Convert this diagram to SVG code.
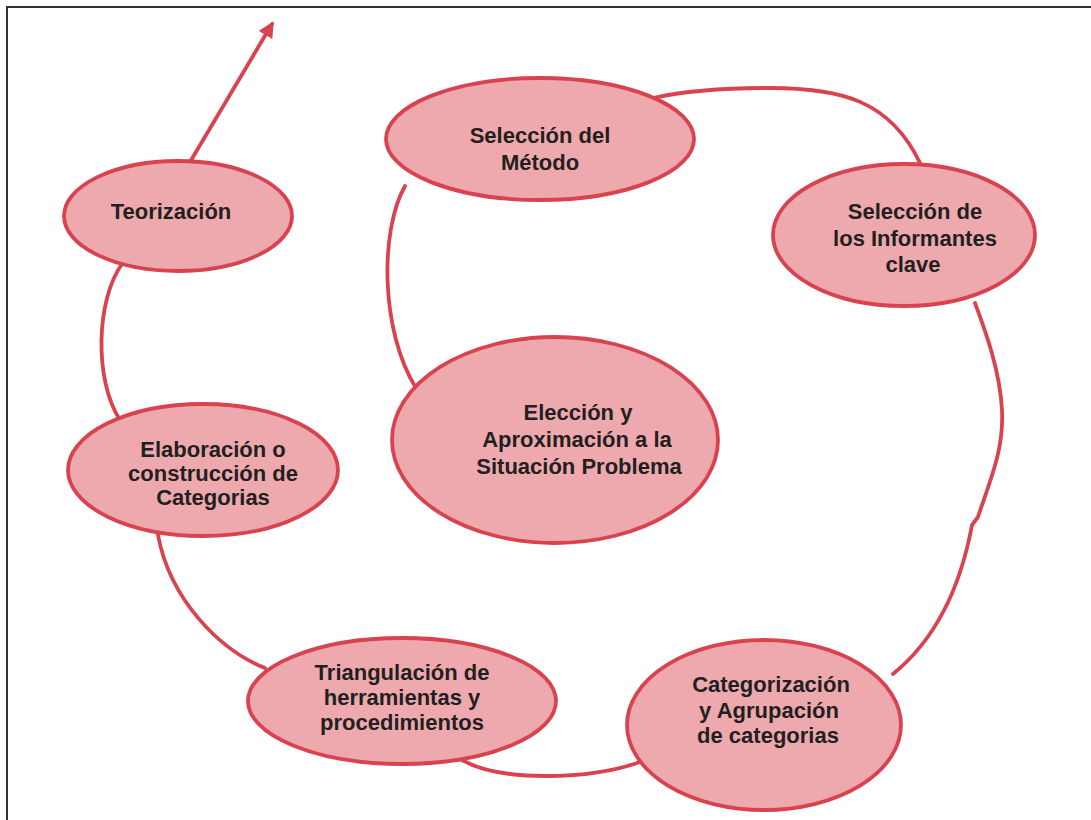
<svg xmlns="http://www.w3.org/2000/svg" width="1091" height="820" viewBox="0 0 1091 820">
<defs>
<style>
.node ellipse{fill:#eea9ae;stroke:#d8434f;stroke-width:3.8}
.node text{font-family:"Liberation Sans",Arial,sans-serif;font-weight:bold;font-size:22px;fill:#231f20;text-anchor:middle}
.conn path{fill:none;stroke:#d8434f;stroke-width:3.8;stroke-linecap:round}
</style>
<marker id="ah" viewBox="0 0 10 10" refX="8" refY="5" markerWidth="4.2" markerHeight="4.2" orient="auto" markerUnits="strokeWidth">
<path d="M0,0 L10,5 L0,10 Z" fill="#d8434f"/>
</marker>
</defs>
<rect x="0" y="0" width="1091" height="820" fill="#ffffff"/>
<path d="M7,820 L7,7 L1091,7" fill="none" stroke="#333333" stroke-width="2"/>
<g class="conn" id="connectors">
<path d="M190,162 L272,24" marker-end="url(#ah)"/>
<path d="M122,264 C96,300 94,380 120,420"/>
<path d="M158,535 C170,600 220,650 265,668"/>
<path d="M462,760 C500,782 590,780 640,762"/>
<path d="M893,674 C935,640 960,590 972,525 L978,517 C990,480 1004,450 1002,410 C1000,370 985,330 975,303"/>
<path d="M920,163 C890,100 840,88 770,88 C720,88 680,92 653,98"/>
<path d="M405,186 C380,230 380,330 416,388"/>
</g>
<g class="node" id="teorizacion">
<ellipse cx="178" cy="216" rx="114" ry="55"/>
<text x="171" y="219">Teorización</text>
</g>
<g class="node" id="metodo">
<ellipse cx="540" cy="139" rx="154" ry="61"/>
<text x="540" y="143">Selección del</text>
<text x="540" y="170">Método</text>
</g>
<g class="node" id="informantes">
<ellipse cx="904" cy="235" rx="131" ry="71"/>
<text x="915" y="219">Selección de</text>
<text x="915" y="246">los Informantes</text>
<text x="913" y="272">clave</text>
</g>
<g class="node" id="eleccion">
<ellipse cx="555" cy="440" rx="163" ry="103"/>
<text x="578" y="420">Elección y</text>
<text x="577" y="447">Aproximación a la</text>
<text x="579" y="474">Situación Problema</text>
</g>
<g class="node" id="elaboracion">
<ellipse cx="203" cy="470" rx="135" ry="66"/>
<text x="213" y="457">Elaboración o</text>
<text x="213" y="481">construcción de</text>
<text x="213" y="505">Categorias</text>
</g>
<g class="node" id="triangulacion">
<ellipse cx="402" cy="701" rx="154" ry="63"/>
<text x="402" y="680">Triangulación de</text>
<text x="402" y="705">herramientas y</text>
<text x="402" y="730">procedimientos</text>
</g>
<g class="node" id="categorizacion">
<ellipse cx="764" cy="725" rx="137" ry="85"/>
<text x="771" y="692">Categorización</text>
<text x="769" y="718">y Agrupación</text>
<text x="768" y="743">de categorias</text>
</g>
</svg>
